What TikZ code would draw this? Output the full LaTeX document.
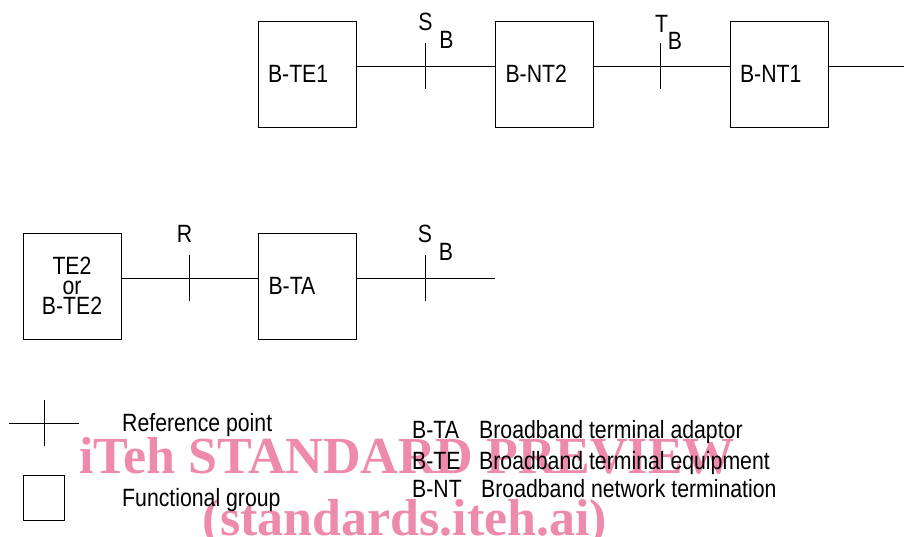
\documentclass[tikz,border=0pt]{standalone}
\usepackage{fontspec}
\usepackage{xcolor}
\usepackage{tikz}
\usetikzlibrary{
  positioning,
  calc,
}
\newfontfamily\labelfont{Liberation Sans}[FakeStretch=0.85]
\newfontfamily\markfont{Liberation Serif}
\definecolor{markpink}{HTML}{EE8AAA}

\begin{document}
\begin{tikzpicture}[
    x=1pt, y=-1pt,
    fgroup/.style={draw, line width=0.8pt, minimum width=98pt, minimum height=106pt,
                   inner xsep=10pt, inner ysep=0pt, text width=78pt, align=left,
                   font=\labelfont\fontsize{25}{20}\selectfont},
    lbl/.style={inner sep=0pt, font=\labelfont\fontsize{25}{20}\selectfont},
    refline/.style={line width=0.8pt},
    wmark/.style={text=markpink, inner sep=0pt, anchor=base,
                  font=\markfont\bfseries\fontsize{52}{52}\selectfont},
  ]
  \useasboundingbox (0,0) rectangle (904,537);
  \node[wmark] (wm1) at (407,473) {iTeh STANDARD PREVIEW};
  \node[wmark] (wm2) at (405,535) {(standards.iteh.ai)};

  \node[fgroup] (te1) at (307,74)   {B-TE1};
  \node[fgroup] (nt2) at (544.5,74) {B-NT2};
  \node[fgroup] (nt1) at (779,74)   {B-NT1};
  \node[fgroup, align=center] (te2) at (72,286) {TE2\\or\\B-TE2};
  \node[fgroup] (ta)  at (307.5,286) {B-TA};

  \coordinate (sb1) at (425.5,66);
  \coordinate (tb)  at (660,66);
  \coordinate (r)   at (189,278);
  \coordinate (sb2) at (425,278);
  \coordinate (tend) at (904,66);
  \coordinate (send) at (495,278);

  \draw[refline] (te1.east |- sb1) -- (nt2.west |- sb1);
  \draw[refline] (nt2.east |- tb) -- (nt1.west |- tb);
  \draw[refline] (nt1.east |- tb) -- (tend);
  \draw[refline] (te2.east |- r) -- (ta.west |- r);
  \draw[refline] (ta.east |- sb2) -- (send);
  \foreach \p in {sb1, tb, r, sb2}
    \draw[refline] ([yshift=-23pt]\p) -- ([yshift=23pt]\p);

  \node[lbl] (s1)  at (425.5,21.5) {S};
  \node[lbl] (s1b) at ([shift={(21,18)}]s1) {B};
  \node[lbl] (t1)  at (661.5,23.5) {T};
  \node[lbl] (t1b) at ([shift={(13.5,17)}]t1) {B};
  \node[lbl] (rl)  at (184.5,233.5) {R};
  \node[lbl] (s2)  at (425,233.5) {S};
  \node[lbl] (s2b) at ([shift={(21,18)}]s2) {B};

  \coordinate (key) at (44,423);
  \draw[refline] ([xshift=-35pt]key) -- ([xshift=35pt]key);
  \draw[refline] ([yshift=-23pt]key) -- ([yshift=23pt]key);
  \node[draw, line width=0.8pt, minimum width=41pt, minimum height=45pt,
        inner sep=0pt] (keybox) at (43.5,497.5) {};
  \node[lbl, anchor=base west] (refpt) at (122,431) {Reference point};
  \node[lbl, anchor=base west] (fgrp)  at (122,506) {Functional group};

  \node[lbl, anchor=base west] (ab-ta) at (412,438) {B-TA};
  \node[lbl, anchor=base west] (ab-te) at (412,469) {B-TE};
  \node[lbl, anchor=base west] (ab-nt) at (412,497) {B-NT};
  \node[lbl, anchor=base west] (tx-ta) at (479,438) {Broadband terminal adaptor};
  \node[lbl, anchor=base west] (tx-te) at (479,469) {Broadband terminal equipment};
  \node[lbl, anchor=base west] (tx-nt) at (481,497) {Broadband network termination};
\end{tikzpicture}
\end{document}
